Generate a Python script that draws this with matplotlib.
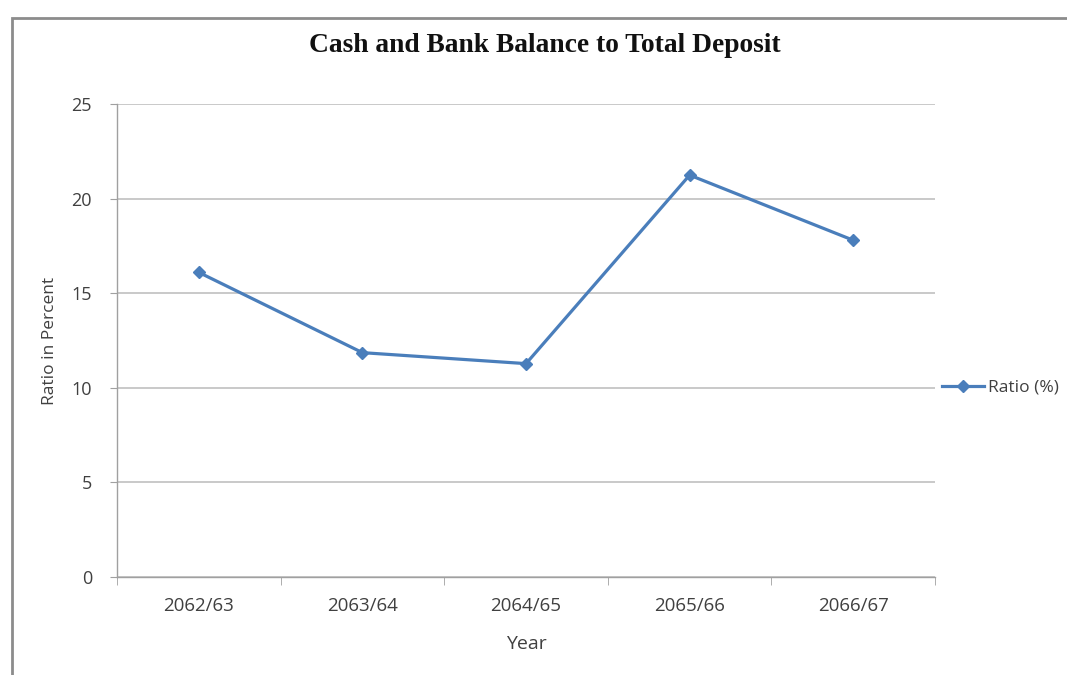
import matplotlib
matplotlib.use("Agg")
import matplotlib.pyplot as plt
from matplotlib.patches import Rectangle
import numpy as np

# Ratio of cash and bank balance to total deposit, by fiscal year
years = ["2062/63", "2063/64", "2064/65", "2065/66", "2066/67"]
ratio = [16.1, 11.86, 11.28, 21.24, 17.8]
y_ticks = [0, 5, 10, 15, 20, 25]

line_color = "#4a7ebb"
grid_color = "#c0c0c0"
text_color = "#404040"

fig = plt.figure(figsize=(10.67, 6.75), dpi=100)
ax = fig.add_axes([0.1097, 0.145, 0.7666, 0.701])

# outer chart border (runs off the right and bottom edges)
fig.patches.append(Rectangle((0.0112, -0.05), 1.1, 0.973 + 0.05, transform=fig.transFigure,
                             fill=False, edgecolor="#8c8c8c", linewidth=2, zorder=0))

x = np.arange(len(years))
ax.plot(x, ratio, color=line_color, linewidth=2.3, marker="D", markersize=6,
        label="Ratio (%)", zorder=3)

ax.set_xlim(-0.5, len(years) - 0.5)
ax.set_ylim(0, 25)
ax.set_yticks(y_ticks)
ax.set_xticks(x)
ax.set_xticklabels(years)
ax.set_xticks(np.arange(-0.5, len(years), 1.0), minor=True)

ax.grid(axis="y", color=grid_color, linewidth=1.2)
ax.set_axisbelow(True)
for side in ["top", "right"]:
    ax.spines[side].set_visible(False)
for side in ["left", "bottom"]:
    ax.spines[side].set_color("#a0a0a0")
    ax.spines[side].set_linewidth(1.0)

ax.tick_params(axis="x", which="major", length=0, pad=14, labelsize=13.5, labelcolor=text_color)
ax.tick_params(axis="x", which="minor", length=6, color="#a0a0a0", direction="out")
ax.tick_params(axis="y", length=5, color="#a0a0a0", pad=13, labelsize=13, labelcolor=text_color)
for lbl in ax.get_xticklabels() + ax.get_yticklabels():
    lbl.set_family("Open Sans")

ax.set_xlabel("Year", fontsize=14, color=text_color, family="Open Sans", labelpad=15)
ax.set_ylabel("Ratio in Percent", fontsize=12.5, color=text_color, family="Open Sans", labelpad=9.5)

fig.text(0.511, 0.932, "Cash and Bank Balance to Total Deposit", ha="center", va="center",
         fontsize=19.8, fontweight="bold", family="Liberation Serif", color="#111111")

leg = ax.legend(loc="center left", bbox_to_anchor=(1.0, 0.4), frameon=False,
                handlelength=2.4, handletextpad=0.25, borderaxespad=0,
                prop={"family": "Open Sans", "size": 12.5})
for t in leg.get_texts():
    t.set_color(text_color)

fig.savefig("out.png", dpi=100, facecolor="white")
